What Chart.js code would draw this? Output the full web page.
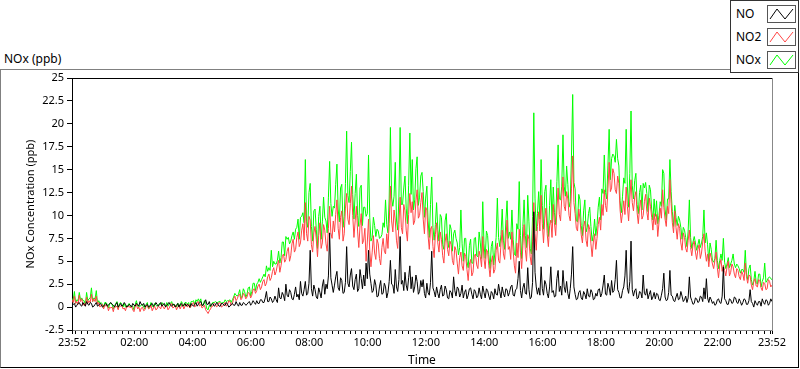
<!DOCTYPE html>
<html>
<head>
<meta charset="utf-8">
<script src="https://cdn.jsdelivr.net/npm/chart.js@4.4.0/dist/chart.umd.min.js"></script>
<style>
  body { margin: 0; background: #fff; font-family: "Noto Sans", sans-serif; color: #000; }
  #wrap { position: relative; width: 800px; height: 369px; overflow: hidden; }
  #frame { position: absolute; left: 0; top: 69px; width: 797px; height: 297px; border: 1px solid #000; border-top-color: #808080; border-left-color: #808080; }
  #title { position: absolute; left: 4px; top: 50px; font-size: 12px; }
  canvas { position: absolute; left: 0; top: 0; }
  #legend { position: absolute; left: 730px; top: 0; width: 67px; height: 71px; border: 1px solid #333; background: #fff; }
  .row { position: absolute; left: 5px; width: 60px; height: 18px; font-size: 12px; line-height: 18px; }
  .row svg { position: absolute; left: 31px; top: 0; }
</style>
</head>
<body>
<div id="wrap">
  <div id="frame"></div>
  <div id="title">NOx (ppb)</div>
  <canvas id="noxChart" width="800" height="369"></canvas>
  <div id="legend"></div>
</div>
<script>
// one value every 2.5 minutes starting 23:52, one row per hour
const startTime = "23:52";
const stepMinutes = 2.5;
const xTickLabels = ["23:52", "02:00", "04:00", "06:00", "08:00", "10:00", "12:00", "14:00", "16:00", "18:00", "20:00", "22:00"];
const seriesNames = ["NO", "NO2", "NOx"];
const seriesColors = ["#000000", "#ff4444", "#00ff00"];

const no = [
  0.1,0.3, 0.4,0.0, 0.2,0.4, 0.5,0.2, 0.1,0.5, 0.3,0.1, 0.6,0.3, 0.2,0.5, 0.4,0.0, 0.1,0.3, 0.5,0.1, 0.2,0.4,
  0.3,0.0, 0.1,0.3, 0.4,0.1, 0.2,0.4, 0.5,0.3, 0.2,0.0, 0.3,0.5, 0.0,0.2, 0.4,0.1, 0.2,0.5, 0.3,0.0, 0.1,0.3,
  0.2,0.0, 0.4,0.2, 0.1,0.4, 0.3,0.1, 0.6,0.3, 0.2,0.4, 0.0,0.2, 0.3,0.0, 0.1,0.3, 0.4,0.1, 0.2,0.5, 0.3,0.1,
  0.3,0.5, 0.1,0.3, 0.4,0.0, 0.2,0.4, 0.5,0.2, 0.1,0.3, 0.3,0.0, 0.2,0.4, 0.0,0.3, 0.4,0.1, 0.2,0.4, 0.1,0.3,
  0.2,0.0, 0.4,0.2, 0.1,0.3, 0.5,0.1, 0.3,0.5, 0.6,0.2, 0.2,0.5, 0.8,0.3, 0.3,0.6, 0.1,0.3, 0.4,0.1, 0.2,0.5,
  0.3,0.1, 0.1,0.4, 0.4,0.2, 0.2,0.5, 0.3,0.0, 0.1,0.3, 0.4,0.2, 0.2,0.6, 0.3,0.1, 0.5,0.2, 0.2,0.5, 0.4,0.2,
  0.3,0.5, 0.6,0.2, 0.4,0.7, 0.5,0.3, 0.7,0.4, 0.4,0.8, 0.8,0.5, 0.5,1.0, 1.7,0.6, 0.6,1.1, 0.9,0.5, 0.7,1.2,
  0.8,0.5, 2.1,1.0, 0.9,1.6, 1.3,0.7, 2.5,1.3, 1.1,1.9, 1.6,0.9, 0.8,1.4, 2.2,1.1, 1.4,0.8, 2.8,1.5, 1.2,1.9,
  2.8,1.3, 1.5,2.6, 6.2,2.0, 1.2,2.4, 1.9,1.1, 0.9,2.1, 1.6,1.0, 2.3,3.0, 1.4,2.5, 2.0,3.4, 8.1,3.2, 2.4,1.6,
  2.4,3.3, 3.9,2.1, 1.8,3.2, 2.9,1.5, 1.6,2.7, 6.6,2.6, 2.2,3.5, 4.2,2.3, 1.9,3.0, 3.6,1.7, 2.0,4.1, 3.1,2.0,
  3.5,2.3, 4.8,3.1, 6.2,3.6, 2.6,1.6, 1.8,3.0, 2.4,1.1, 1.2,2.2, 2.9,1.4, 1.5,2.6, 2.2,1.0, 1.6,2.8, 5.1,2.5,
  2.4,1.5, 4.1,2.2, 1.7,3.0, 7.7,2.5, 2.9,1.8, 3.8,2.4, 1.8,3.2, 4.5,2.0, 3.3,1.6, 2.2,3.5, 2.8,1.4, 1.7,2.9,
  2.2,3.0, 1.5,1.0, 2.6,1.6, 1.3,2.7, 6.1,2.1, 1.7,1.1, 2.2,1.5, 1.0,1.9, 2.4,1.2, 1.3,2.3, 1.9,1.0, 0.9,1.8,
  1.6,1.0, 3.3,1.8, 1.2,2.2, 2.0,1.1, 1.5,2.4, 1.0,1.6, 1.9,0.9, 1.3,2.0, 2.1,1.4, 0.9,1.9, 1.7,1.0, 1.2,2.1,
  1.4,0.9, 2.3,1.6, 1.0,2.0, 1.8,1.2, 0.8,1.7, 1.5,0.9, 2.0,1.4, 1.3,2.5, 1.7,1.0, 2.2,1.5, 1.1,2.0, 1.9,1.2,
  1.6,2.2, 2.4,1.3, 1.2,1.9, 2.0,3.1, 5.0,1.8, 1.0,2.1, 2.6,1.5, 1.4,4.3, 1.9,0.9, 1.1,2.7, 10.4,3.8, 2.2,1.4,
  2.1,1.3, 4.4,2.0, 1.3,2.9, 2.5,1.5, 1.0,2.2, 4.4,1.6, 1.8,1.1, 1.2,3.1, 4.0,1.7, 2.3,1.3, 4.0,2.2, 1.6,2.8,
  1.5,0.9, 2.0,3.6, 6.6,2.2, 1.4,0.8, 0.9,1.6, 1.8,1.0, 0.8,1.7, 1.4,0.9, 2.0,1.2, 1.1,1.9, 1.6,0.8, 0.9,1.5,
  1.2,1.9, 2.0,1.1, 1.5,2.4, 3.5,1.4, 1.3,2.6, 2.1,1.3, 2.9,1.6, 1.8,3.0, 5.1,1.9, 1.6,1.0, 1.0,1.8, 2.2,3.4,
  6.2,2.1, 1.5,2.8, 7.2,1.9, 1.2,1.8, 2.0,0.9, 1.0,1.7, 1.6,1.0, 3.5,1.5, 1.3,2.0, 0.9,1.4, 1.8,0.8, 1.1,1.6,
  0.9,1.5, 1.4,0.8, 0.7,1.3, 2.0,3.7, 1.1,0.7, 0.8,1.6, 4.0,1.3, 1.2,0.7, 0.6,1.1, 1.5,0.8, 0.9,1.7, 1.2,0.6,
  0.8,1.2, 0.5,1.0, 3.3,1.1, 0.7,0.3, 0.4,1.0, 0.9,0.5, 0.6,1.2, 1.1,0.6, 2.1,0.9, 3.1,1.0, 0.5,1.1, 0.8,0.4,
  0.6,0.2, 0.3,0.8, 0.9,0.5, 0.4,1.2, 4.4,0.9, 0.7,0.3, 0.3,0.9, 0.8,0.4, 0.5,1.1, 1.0,0.5, 0.4,0.9, 0.6,0.2,
  0.5,0.9, 0.8,0.3, 0.3,0.7, 1.9,0.6, 0.4,0.0, 0.7,0.4, 0.2,0.6, 0.6,0.1, 0.9,0.5, 0.3,0.8, 0.7,0.2, 0.4,0.9,
  0.6
];

const no2 = [
  0.8,0.5, 1.2,0.4, 0.6,0.3, 1.3,0.6, 0.9,0.2, 0.4,0.1, 1.1,0.4, 0.7,0.5, 1.4,0.6, 0.9,0.6, 1.2,0.3, 0.5,0.0,
  0.2,0.3, -0.2,0.2, 0.1,0.2, -0.4,0.0, -0.1,0.0, -0.5,0.1, 0.0,0.1, -0.3,0.2, 0.1,0.2, -0.2,-0.1, -0.4,0.1, 0.0,0.1,
  -0.1,0.1, -0.3,-0.5, 0.1,0.3, -0.2,0.0, -0.5,-0.1, 0.0,-0.4, -0.3,0.1, 0.2,-0.2, -0.1,0.2, -0.4,-0.1, 0.1,-0.3, -0.2,0.1,
  0.0,-0.2, 0.3,0.0, -0.2,0.1, 0.2,-0.3, -0.1,0.2, 0.4,-0.1, 0.0,0.2, -0.3,0.0, 0.2,-0.2, 0.1,0.3, -0.2,0.1, 0.3,0.0,
  0.3,-0.1, 0.1,0.4, 0.5,0.0, 0.2,0.5, 0.6,0.1, 0.3,-0.1, 0.0,0.2, -0.3,-0.5, -0.7,-0.4, -0.2,0.1, 0.1,0.4, 0.3,0.0,
  0.2,0.5, 0.4,0.0, 0.1,0.3, 0.5,0.1, 0.3,0.7, 0.6,0.2, 0.4,0.9, 1.2,0.7, 0.9,1.3, 1.4,0.8, 1.0,1.5, 1.3,0.9,
  1.1,1.6, 1.5,1.0, 1.3,1.9, 2.0,1.5, 1.8,2.3, 2.5,1.9, 2.2,2.8, 3.0,2.3, 2.6,3.3, 3.6,2.9, 3.2,3.9, 4.3,3.5,
  3.9,4.6, 5.1,3.8, 4.5,5.5, 5.8,4.9, 5.2,6.1, 6.5,5.0, 5.6,6.9, 7.4,6.0, 6.3,7.6, 8.2,6.6, 7.0,8.4, 9.1,7.3,
  11.4,8.0, 7.2,9.9, 9.5,6.8, 6.0,8.1, 8.8,7.4, 5.5,7.8, 9.2,6.4, 7.0,9.0, 8.4,6.9, 6.1,8.6, 11.0,8.1, 7.5,9.4,
  8.2,10.1, 11.7,8.6, 7.4,9.8, 10.5,7.2, 8.0,10.8, 12.4,9.6, 9.0,11.3, 13.2,10.0, 7.6,9.4, 11.0,8.3, 6.5,8.9, 10.2,6.9,
  7.3,8.6, 5.0,7.1, 9.6,6.2, 4.4,6.0, 7.8,5.9, 5.2,7.4, 6.9,5.3, 4.6,6.5, 7.5,6.1, 5.8,8.0, 6.4,9.1, 13.2,9.4,
  8.2,10.6, 9.5,7.3, 6.4,9.0, 12.0,8.7, 8.0,11.2, 10.5,8.4, 7.2,10.1, 12.4,10.3, 11.5,9.0, 9.4,11.6, 12.8,9.7, 10.0,11.4,
  12.5,9.6, 8.0,10.9, 10.6,7.8, 6.3,8.5, 8.8,6.6, 5.4,7.9, 9.2,7.0, 6.0,8.2, 7.4,5.6, 4.8,7.1, 8.0,6.3, 5.6,7.2,
  6.8,5.1, 4.6,6.6, 6.2,4.8, 3.6,5.4, 6.0,4.5, 4.0,5.9, 5.5,4.1, 2.9,4.7, 5.2,3.4, 3.8,5.6, 5.8,4.6, 4.2,6.1,
  5.5,4.4, 7.7,5.3, 4.2,6.3, 6.0,4.5, 3.3,4.9, 5.6,3.7, 4.1,6.2, 7.0,5.1, 4.8,6.9, 8.4,5.8, 5.2,7.4, 9.5,6.3,
  6.6,5.2, 8.2,6.1, 4.5,3.7, 7.0,5.4, 8.5,6.0, 4.2,6.7, 9.0,6.3, 5.0,7.9, 7.4,5.5, 4.6,7.2, 11.4,8.0, 6.2,8.8,
  10.4,8.3, 12.2,9.1, 7.0,9.7, 10.8,8.0, 6.6,8.9, 9.5,7.6, 11.2,9.2, 7.8,10.6, 13.0,10.1, 9.4,11.9, 14.2,11.0, 10.5,12.6,
  11.8,10.0, 9.4,12.9, 16.5,11.4, 10.2,8.6, 8.3,10.7, 9.6,7.9, 7.0,8.8, 9.4,7.3, 6.6,9.0, 8.5,6.9, 5.5,7.1, 8.0,6.3,
  7.5,9.0, 9.8,8.4, 11.2,10.0, 12.8,11.1, 10.4,12.9, 15.8,12.6, 13.0,15.1, 14.6,12.8, 12.4,14.3, 13.5,10.6, 9.2,10.3, 11.6,10.1,
  13.1,11.0, 9.4,11.8, 13.9,11.4, 10.5,12.0, 12.6,10.3, 9.1,10.8, 11.7,9.6, 10.0,11.5, 12.3,10.4, 9.5,11.9, 11.0,9.8, 8.4,10.2,
  9.0,10.1, 7.7,9.2, 10.8,9.7, 12.8,10.9, 9.6,8.8, 11.0,10.2, 13.9,11.3, 9.2,8.1, 10.5,8.7, 7.4,9.1, 8.6,7.0, 6.2,8.1,
  7.6,6.4, 6.0,7.3, 8.4,6.5, 5.6,6.8, 7.2,6.0, 5.2,6.3, 6.8,5.3, 5.9,7.1, 8.0,6.1, 5.0,5.8, 4.4,5.9, 5.4,4.7,
  4.2,5.1, 6.0,4.3, 3.2,4.6, 5.2,3.9, 4.6,4.0, 3.4,4.4, 5.0,3.4, 3.8,4.7, 4.4,3.6, 3.2,4.2, 4.0,3.3, 3.0,3.9,
  3.6,2.9, 4.8,3.3, 2.6,3.5, 3.4,2.4, 1.9,2.8, 3.1,2.3, 2.2,3.0, 2.9,2.1, 1.8,2.7, 2.6,1.9, 2.0,3.0, 2.8,2.2,
  2.4
];

const nox = [
  0.9,0.8, 1.7,0.4, 0.8,0.7, 1.6,0.8, 1.0,0.7, 0.7,0.2, 1.6,0.7, 0.9,1.0, 2.1,0.6, 1.0,0.9, 1.8,0.4, 0.7,0.4,
  0.5,0.3, 0.0,0.5, 0.5,0.3, -0.1,0.4, 0.4,0.3, -0.2,0.1, 0.4,0.6, -0.2,0.4, 0.5,0.3, 0.0,0.4, 0.0,0.1, 0.2,0.4,
  0.1,0.1, 0.1,-0.3, 0.3,0.7, 0.1,0.1, 0.1,0.2, 0.3,0.0, -0.2,0.3, 0.5,-0.2, 0.0,0.5, 0.1,0.0, 0.4,0.2, 0.1,0.2,
  0.4,0.3, 0.5,0.3, 0.2,0.1, 0.5,0.1, 0.4,0.4, 0.6,0.2, 0.3,0.2, 0.0,0.4, 0.3,0.1, 0.6,0.4, 0.1,0.5, 0.5,0.3,
  0.5,-0.1, 0.6,0.6, 0.7,0.3, 0.8,0.6, 0.9,0.6, 0.9,0.1, 0.3,0.7, 0.4,-0.2, -0.3,0.2, 0.0,0.4, 0.5,0.5, 0.6,0.5,
  0.5,0.6, 0.6,0.4, 0.5,0.5, 0.8,0.6, 0.7,0.7, 0.8,0.5, 0.8,1.1, 1.5,1.3, 1.2,1.4, 1.9,1.0, 1.2,2.0, 1.7,1.1,
  1.4,2.1, 2.2,1.2, 1.7,2.6, 2.6,1.8, 2.5,2.7, 3.1,2.7, 3.0,3.3, 3.6,3.3, 4.5,3.9, 4.3,4.0, 6.2,4.4, 5.0,4.7,
  4.7,5.1, 6.1,4.8, 5.4,7.1, 7.1,5.6, 7.7,7.4, 7.6,6.9, 7.2,7.8, 8.2,7.4, 8.5,8.7, 9.6,7.4, 9.8,9.9, 10.3,9.2,
  16.1,9.3, 8.7,12.5, 13.5,8.8, 7.2,10.5, 10.7,8.5, 6.4,9.9, 11.0,7.4, 9.3,12.0, 9.8,9.4, 8.1,12.0, 15.9,11.3, 9.9,11.0,
  10.8,13.4, 15.6,10.7, 9.3,13.0, 13.4,8.7, 9.9,13.5, 19.2,12.2, 11.4,14.8, 18.0,12.3, 9.6,12.4, 14.5,10.0, 8.8,13.0, 13.3,8.9,
  10.9,10.9, 9.9,10.2, 16.6,9.8, 7.2,7.6, 9.8,8.9, 7.7,8.5, 8.3,7.5, 7.6,7.9, 9.2,8.7, 11.7,9.0, 8.1,11.9, 19.6,11.9,
  11.0,12.1, 15.8,9.5, 8.4,12.0, 19.6,11.2, 11.2,13.0, 14.3,10.8, 9.1,13.3, 19.0,12.3, 16.1,10.6, 11.7,15.1, 16.4,11.1, 12.0,14.3,
  14.7,12.6, 9.8,11.9, 13.2,9.4, 7.6,11.2, 14.2,8.7, 7.3,9.0, 11.4,8.5, 7.2,10.1, 9.8,6.8, 6.3,9.4, 10.2,7.3, 6.5,9.0,
  8.5,6.1, 8.0,8.4, 7.5,7.0, 5.7,6.5, 10.6,6.9, 5.0,7.5, 7.5,5.0, 4.3,6.7, 7.4,4.8, 4.8,7.5, 7.6,5.6, 5.5,8.2,
  7.0,5.3, 11.5,6.9, 5.3,8.3, 7.8,5.7, 4.2,6.6, 7.2,4.6, 6.0,7.6, 11.9,7.6, 6.6,7.9, 10.7,7.3, 6.3,9.4, 11.6,7.5,
  8.2,7.4, 10.6,7.4, 5.8,5.6, 9.1,8.5, 13.7,7.8, 5.3,8.8, 11.7,7.8, 6.5,12.2, 9.3,6.4, 5.8,9.9, 21.2,11.8, 8.3,10.2,
  12.6,9.6, 16.1,11.1, 8.5,12.6, 13.3,9.5, 7.7,11.1, 13.9,9.2, 13.1,10.3, 9.0,13.7, 17.7,11.8, 11.7,13.2, 18.8,13.2, 12.1,15.4,
  13.4,10.9, 11.5,16.5, 23.2,13.6, 12.9,9.4, 9.3,12.3, 11.7,8.9, 7.8,10.5, 11.7,8.2, 8.7,10.2, 10.9,8.8, 7.2,7.9, 9.6,7.8,
  8.9,10.9, 12.0,9.5, 12.9,12.4, 16.6,12.5, 11.8,15.5, 19.4,13.9, 16.2,16.7, 16.5,15.8, 18.3,16.2, 15.4,11.6, 10.3,12.1, 14.1,13.5,
  19.4,13.1, 10.9,14.6, 21.4,13.3, 11.8,13.8, 14.6,11.2, 10.2,12.5, 13.3,10.6, 13.5,13.0, 13.6,12.4, 10.4,13.3, 12.8,10.6, 9.5,11.8,
  9.9,11.6, 9.1,10.0, 11.5,11.0, 15.0,14.6, 10.7,9.5, 11.8,11.8, 16.1,12.6, 10.4,8.8, 11.1,9.8, 8.9,9.9, 9.5,8.7, 7.4,8.7,
  8.4,7.6, 6.6,8.3, 11.7,7.6, 6.4,7.1, 7.7,7.0, 6.2,6.8, 7.4,6.5, 7.0,7.7, 10.6,7.0, 8.1,6.8, 5.0,7.0, 6.3,5.1,
  4.9,5.3, 7.3,5.1, 4.2,5.1, 5.8,5.1, 7.5,4.9, 4.2,4.7, 5.4,4.3, 4.7,5.1, 5.8,4.7, 4.3,4.7, 4.5,4.2, 3.7,4.1,
  4.1,3.8, 6.2,3.6, 3.0,4.2, 4.6,3.0, 2.4,2.8, 3.9,2.7, 2.5,3.6, 3.6,2.2, 2.8,3.2, 4.8,2.7, 2.9,3.2, 3.3,3.1,
  3.0
];

// hours elapsed since the first sample
const toPoints = (values) => values.map((v, i) => ({ x: (i * stepMinutes) / 60, y: v }));

function pad(n) {
  return String(n).padStart(2, "0");
}

const [startH, startM] = startTime.split(":").map(Number);

function clockText(hours) {
  const total = (startH * 60 + startM + Math.round(hours * 60)) % 1440;
  return pad(Math.floor(total / 60)) + ":" + pad(total % 60);
}

// ticks at both ends and every 12 minutes from the first full hour
function buildTimeTicks(scale) {
  const ticks = [{ value: 0 }];
  for (let m = 60 - startM; m < 24 * 60; m += 12) ticks.push({ value: m / 60 });
  ticks.push({ value: 24 });
  scale.ticks = ticks;
}

const plotFrame = {
  id: "plotFrame",
  afterDraw(chart) {
    const { ctx, chartArea: a } = chart;
    ctx.save();
    ctx.lineWidth = 1;
    ctx.strokeStyle = "#000";
    ctx.beginPath();
    ctx.moveTo(a.left, a.top + 0.5);
    ctx.lineTo(a.right, a.top + 0.5);
    ctx.stroke();
    ctx.strokeStyle = "#888";
    ctx.beginPath();
    ctx.moveTo(a.right + 0.5, a.top);
    ctx.lineTo(a.right + 0.5, a.bottom + 1);
    ctx.stroke();
    ctx.restore();
  },
};

// legend box with zigzag samples
const legend = document.getElementById("legend");
seriesNames.forEach((name, i) => {
  const row = document.createElement("div");
  row.className = "row";
  row.style.top = 4 + i * 23 + "px";
  row.innerHTML =
    name +
    '<svg width="29" height="18"><rect x="0.5" y="0.5" width="28" height="17" fill="#fff" stroke="#555"/>' +
    '<polyline points="3,14 10,4 18,14 26,4" fill="none" stroke="' + seriesColors[i] + '" stroke-width="1"/></svg>';
  legend.appendChild(row);
});

Chart.defaults.font.family = '"Noto Sans", sans-serif';
Chart.defaults.font.size = 11;
Chart.defaults.color = "#000";

const ctx = document.getElementById("noxChart").getContext("2d");
new Chart(ctx, {
  type: "line",
  data: {
    datasets: [
      { label: seriesNames[0], data: toPoints(no), borderColor: seriesColors[0], order: 0 },
      { label: seriesNames[1], data: toPoints(no2), borderColor: seriesColors[1], order: 1 },
      { label: seriesNames[2], data: toPoints(nox), borderColor: seriesColors[2], order: 2 },
    ],
  },
  options: {
    responsive: false,
    animation: false,
    events: [],
    layout: { padding: { left: 0, top: 78, right: 28, bottom: 0 } },
    elements: {
      line: { borderWidth: 1, tension: 0 },
      point: { radius: 0 },
    },
    plugins: { legend: { display: false }, tooltip: { enabled: false } },
    scales: {
      x: {
        type: "linear",
        min: 0,
        max: 24,
        afterBuildTicks: buildTimeTicks,
        afterFit: (scale) => { scale.height = 39; },
        grid: { drawOnChartArea: false, tickLength: 4, color: "#000" },
        border: { color: "#888" },
        ticks: {
          autoSkip: false,
          maxRotation: 0,
          padding: 2,
          callback: (value) => {
            const s = clockText(value);
            return xTickLabels.includes(s) ? s : "";
          },
        },
        title: { display: true, text: "Time", font: { size: 12 }, padding: { top: 0, bottom: 1 } },
      },
      y: {
        min: -2.5,
        max: 25,
        afterFit: (scale) => { scale.width = 72; },
        grid: { drawOnChartArea: false, tickLength: 5, color: "#000" },
        border: { color: "#000" },
        ticks: { stepSize: 2.5, padding: 3, callback: (v) => String(v) },
        title: { display: true, text: "NOx Concentration (ppb)", padding: { top: 24, bottom: 0 } },
      },
    },
  },
  plugins: [plotFrame],
});
</script>
</body>
</html>
